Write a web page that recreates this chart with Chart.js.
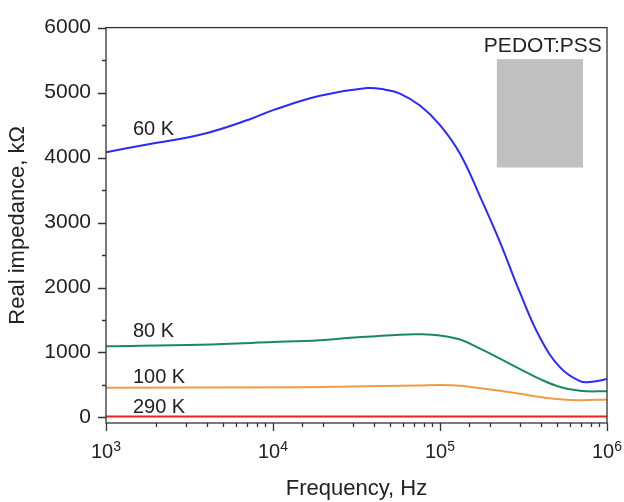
<!DOCTYPE html>
<html>
<head>
<meta charset="utf-8">
<script src="https://cdn.jsdelivr.net/npm/chart.js@4"></script>
<style>
  html, body { margin: 0; padding: 0; background: #fff; }
  #wrap { width: 624px; height: 502px; }
</style>
</head>
<body>
<div id="wrap"><canvas id="impedanceChart"></canvas></div>
<script>
const FONT = "'Liberation Sans', Arial, sans-serif";

// frequencies (Hz) and real impedance (kOhm)
const freq60 = [1000, 1832, 3656, 7278, 10000, 19100, 36560, 46900, 57540, 75860, 100000, 131800, 173800, 228600, 301300, 397200, 523600, 688700, 812800, 1000000];
const z60 = [4080, 4210, 4350, 4590, 4730, 4950, 5070, 5045, 4985, 4800, 4500, 4060, 3400, 2700, 1920, 1226, 771, 560, 550, 592];

const freq80 = [1000, 3656, 10000, 19100, 28900, 57540, 75860, 100000, 131800, 173800, 228600, 301300, 397200, 523600, 688700, 1000000];
const z80 = [1095, 1120, 1160, 1190, 1226, 1275, 1280, 1262, 1200, 1060, 905, 745, 590, 470, 410, 402];

const freq100 = [1000, 14790, 28900, 72780, 100000, 131800, 173800, 228600, 301300, 397200, 523600, 688700, 1000000];
const z100 = [458, 467, 478, 493, 500, 490, 450, 410, 365, 316, 280, 266, 276];

const freq290 = [1000, 10000, 100000, 1000000];
const z290 = [15, 15, 15, 15];

const yTickValues = [0, 500, 1000, 1500, 2000, 2500, 3000, 3500, 4000, 4500, 5000, 5500, 6000];
const xTickValues = [1e3, 1e4, 1e5, 1e6];
const xTickExponents = ["3", "4", "5", "6"];

// curve labels: [text, freq, value]
const curveLabels = [
  ["60 K", 1450, 4350],
  ["80 K", 1450, 1237],
  ["100 K", 1450, 523],
  ["290 K", 1450, 68],
];

function points(xs, ys) {
  return xs.map((x, i) => ({ x: x, y: ys[i] }));
}

const decorPlugin = {
  id: "decor",
  beforeDatasetsDraw(chart) {
    const c = chart.ctx;
    const xs = chart.scales.x, ys = chart.scales.y;
    // grey sample block
    const x0 = xs.getPixelForValue(219000), x1 = xs.getPixelForValue(718000);
    const y0 = ys.getPixelForValue(5515), y1 = ys.getPixelForValue(3847);
    c.save();
    c.fillStyle = "#c0c0c0";
    c.fillRect(x0, y0, x1 - x0, y1 - y0);
    c.restore();
  },
  afterDraw(chart) {
    const c = chart.ctx;
    const a = chart.chartArea;
    const xs = chart.scales.x, ys = chart.scales.y;
    c.save();
    // frame
    c.strokeStyle = "#333";
    c.lineWidth = 1.3;
    c.strokeRect(a.left, a.top, a.right - a.left, a.bottom - a.top);

    // y tick marks
    c.beginPath();
    ys.ticks.forEach(t => {
      const py = Math.round(ys.getPixelForValue(t.value)) + 0.5;
      const len = t.value % 1000 === 0 ? 8 : 4;
      c.moveTo(a.left, py);
      c.lineTo(a.left - len, py);
    });
    // x tick marks
    xs.ticks.forEach(t => {
      const px = Math.round(xs.getPixelForValue(t.value)) + 0.5;
      const major = xTickValues.includes(t.value);
      c.moveTo(px, a.bottom);
      c.lineTo(px, a.bottom + (major ? 8 : 4));
    });
    c.stroke();

    // x tick labels with superscript exponents
    c.fillStyle = "#222";
    c.textBaseline = "alphabetic";
    xTickValues.forEach((v, i) => {
      const px = xs.getPixelForValue(v);
      c.font = "20px " + FONT;
      const wBase = c.measureText("10").width;
      c.font = "14px " + FONT;
      const wExp = c.measureText(xTickExponents[i]).width;
      const start = px - (wBase + wExp) / 2;
      c.font = "20px " + FONT;
      c.textAlign = "left";
      c.fillText("10", start, 458);
      c.font = "14px " + FONT;
      c.fillText(xTickExponents[i], start + wBase, 451);
    });

    // curve labels
    c.font = "20px " + FONT;
    c.textAlign = "left";
    curveLabels.forEach(l => {
      c.fillText(l[0], xs.getPixelForValue(l[1]), ys.getPixelForValue(l[2]));
    });
    c.font = "21px " + FONT;
    c.textAlign = "right";
    c.fillText("PEDOT:PSS", xs.getPixelForValue(930000), ys.getPixelForValue(5620));
    c.restore();
  },
};

const ctx = document.getElementById("impedanceChart").getContext("2d");

const impedanceChart = new Chart(ctx, {
  type: "line",
  data: {
    datasets: [
      { label: "60 K", data: points(freq60, z60), borderColor: "#2a2aff" },
      { label: "80 K", data: points(freq80, z80), borderColor: "#1a8a5c" },
      { label: "100 K", data: points(freq100, z100), borderColor: "#f39a4a" },
      { label: "290 K", data: points(freq290, z290), borderColor: "#ee2222" },
    ],
  },
  options: {
    responsive: true,
    maintainAspectRatio: false,
    animation: false,
    layout: { padding: { left: 0, top: 21, right: 17, bottom: 0 } },
    elements: {
      line: { borderWidth: 2, tension: 0.4, fill: false },
      point: { radius: 0 },
    },
    plugins: {
      legend: { display: false },
      tooltip: { enabled: false },
    },
    scales: {
      x: {
        type: "logarithmic",
        min: 1000,
        max: 1000000,
        grid: { display: false, drawTicks: false },
        border: { display: false },
        ticks: { display: false, autoSkip: false },
        title: {
          display: true,
          text: "Frequency, Hz",
          color: "#222",
          font: { family: FONT, size: 22 },
          padding: { top: 0, bottom: 0 },
        },
        afterFit(scale) { scale.height = 79; },
      },
      y: {
        min: -85,
        max: 6000,
        grid: { display: false, drawTicks: false },
        border: { display: false },
        afterBuildTicks(scale) {
          scale.ticks = yTickValues.map(v => ({ value: v }));
        },
        ticks: {
          autoSkip: false,
          padding: 15,
          color: "#222",
          font: { family: FONT, size: 21 },
          callback: v => (v % 1000 === 0 ? String(v) : ""),
        },
        title: {
          display: true,
          text: "Real impedance, kΩ",
          color: "#222",
          font: { family: FONT, size: 22 },
          padding: { top: 5, bottom: 0 },
        },
        afterFit(scale) { scale.width = 106; },
      },
    },
  },
  plugins: [decorPlugin],
});
</script>
</body>
</html>
